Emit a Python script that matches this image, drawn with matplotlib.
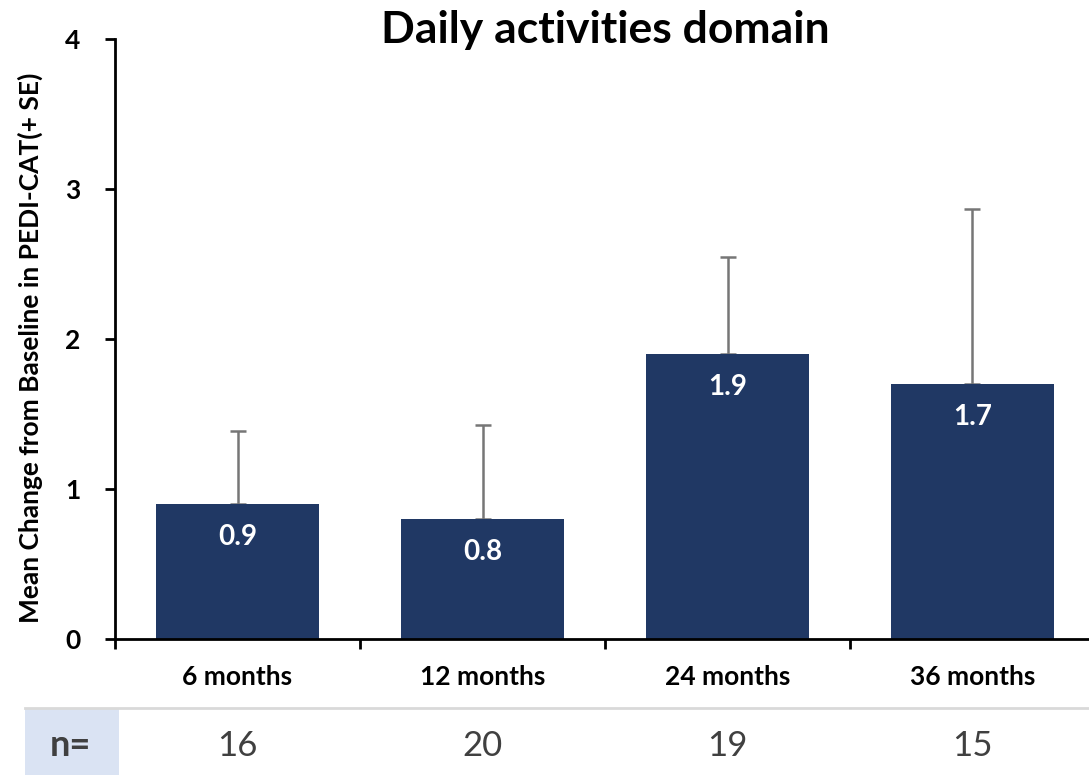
import matplotlib.pyplot as plt
import matplotlib.transforms as mtransforms
from matplotlib.patches import Rectangle

# data
periods = ['6 months', '12 months', '24 months', '36 months']
mean_change = [0.9, 0.8, 1.9, 1.7]
se = [0.49, 0.63, 0.65, 1.17]
n_counts = [16, 20, 19, 15]

plt.rcParams['font.family'] = ['Lato', 'DejaVu Sans']

W, H = 1089, 775
fig = plt.figure(figsize=(W / 100, H / 100), dpi=100)
ax = fig.add_axes([115 / W, 1 - 639 / H, (W - 115) / W, 600 / H])

x = list(range(len(periods)))
ax.bar(x, mean_change, width=0.665, color='#203864', zorder=2)
ax.errorbar(x, mean_change, yerr=[[0] * len(se), se], fmt='none',
            ecolor='#767676', elinewidth=1.8, capsize=6, capthick=1.8, zorder=1)

for xi, v in zip(x, mean_change):
    ax.text(xi, v - 0.22, f'{v:.1f}', ha='center', va='center', color='white',
            fontsize=20, fontweight='bold', zorder=3)

ax.set_xlim(-0.5, -0.5 + (W - 115) / 245)
ax.set_ylim(0, 4)
ax.set_yticks([0, 1, 2, 3, 4])
ax.set_yticklabels(['0', '1', '2', '3', '4'], fontsize=19, fontweight='bold')
ax.set_xticks([i - 0.5 for i in range(len(periods))], minor=False)
ax.set_xticklabels([])
ax.set_xticks(x, minor=True)
ax.set_xticklabels(periods, minor=True, fontsize=19, fontweight='bold')
ax.tick_params(axis='x', which='minor', length=0, pad=19)
ax.tick_params(axis='x', which='major', length=7, width=2, direction='out')
ax.tick_params(axis='y', length=7, width=2, direction='out', pad=18)
for s in ['top', 'right']:
    ax.spines[s].set_visible(False)
ax.spines['left'].set_linewidth(2)
ax.spines['bottom'].set_linewidth(2)

ax.set_ylabel('Mean Change from Baseline in PEDI-CAT(+ SE)', fontsize=19,
              fontweight='bold')
ax.yaxis.set_label_coords(-72 / (W - 115), 0.485)

fig.text(605 / W, 1 - 30 / H, 'Daily activities domain', ha='center', va='center',
         fontsize=32, fontweight='bold')

# n= table row
fig.add_artist(Rectangle((25 / W, 0), (119 - 25) / W, 1 - 709 / H,
                         transform=fig.transFigure, facecolor='#dae3f3',
                         edgecolor='none'))
fig.add_artist(plt.Line2D([25 / W, 1], [1 - 708 / H, 1 - 708 / H],
                          transform=fig.transFigure, color='#d9d9d9', lw=2))
fig.text(70 / W, 1 - 746 / H, 'n=', ha='center', va='center', fontsize=26,
         fontweight='bold', color='#404040')
trans = mtransforms.blended_transform_factory(ax.transData, fig.transFigure)
for xi, n in zip(x, n_counts):
    ax.text(xi, 1 - 746 / H, str(n), transform=trans, ha='center', va='center',
            fontsize=25, color='#404040', clip_on=False)

fig.savefig('out.png', dpi=100)
